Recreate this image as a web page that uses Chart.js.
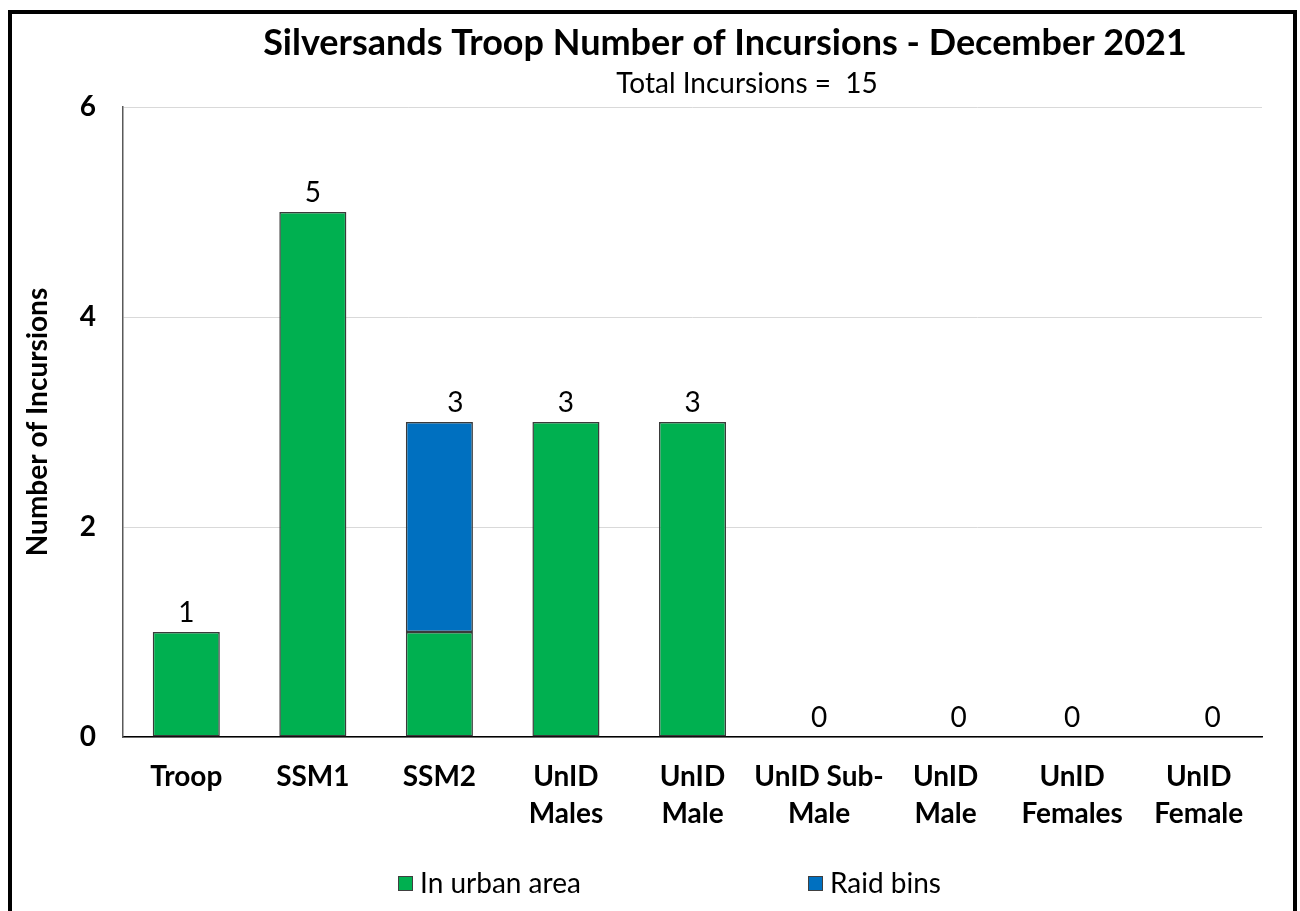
<!DOCTYPE html>
<html>
<head>
<meta charset="utf-8">
<script src="https://cdn.jsdelivr.net/npm/chart.js@4.4.1/dist/chart.umd.min.js"></script>
<style>
  html, body { margin: 0; padding: 0; background: #fff; overflow: hidden; }
  #wrap { position: relative; width: 1300px; height: 911px; }
  #frame { position: absolute; left: 8px; top: 10px; width: 1281px; height: 1000px; border: 4px solid #000; pointer-events: none; }
  canvas { position: absolute; left: 0; top: 0; }
</style>
</head>
<body>
<div id="wrap">
  <canvas id="chart" width="1300" height="911"></canvas>
  <div id="frame"></div>
</div>
<script>
// chart data
const categories = [["Troop"], ["SSM1"], ["SSM2"], ["UnID", "Males"], ["UnID", "Male"], ["UnID Sub-", "Male"], ["UnID", "Male"], ["UnID", "Females"], ["UnID", "Female"]];
const urbanArea = [1, 5, 1, 3, 3, 0, 0, 0, 0];
const raidBins = [0, 0, 2, 0, 0, 0, 0, 0, 0];
const yTicks = [0, 2, 4, 6];
const titleText = "Silversands Troop Number of Incursions - December 2021";
const subtitleText = "Total Incursions =  15";

// small sideways nudges of the value labels, as in the original
const labelShiftX = [0, 0, 16, 0, 0, 0, 13, 0, 14];

const FONT = "Lato, 'Open Sans', sans-serif";

// title + subtitle (not centred on the canvas in the original)
const titlePlugin = {
    id: 'titles',
    afterDraw(chart) {
        const ctx = chart.ctx;
        ctx.save();
        ctx.fillStyle = '#000';
        ctx.textAlign = 'center';
        ctx.textBaseline = 'middle';
        ctx.font = "bold 36px " + FONT;
        ctx.fillText(titleText, 725, 43);
        ctx.font = "28px " + FONT;
        ctx.fillText(subtitleText, 747, 84);
        ctx.restore();
    }
};

// totals above each stack
const totalsPlugin = {
    id: 'totals',
    afterDatasetsDraw(chart) {
        const ctx = chart.ctx;
        const yScale = chart.scales.y;
        ctx.save();
        ctx.fillStyle = '#000';
        ctx.font = "28px " + FONT;
        ctx.textAlign = 'center';
        ctx.textBaseline = 'bottom';
        categories.forEach((c, i) => {
            const total = urbanArea[i] + raidBins[i];
            const bar = chart.getDatasetMeta(0).data[i];
            const y = yScale.getPixelForValue(total);
            ctx.fillText(String(total), bar.x + labelShiftX[i], y - 5);
        });
        ctx.restore();
    }
};

// legend drawn by hand so the wide gap between items can be kept
const legendPlugin = {
    id: 'customLegend',
    afterDraw(chart) {
        const ctx = chart.ctx;
        const xs = [398, 808];
        const yMid = 884;
        ctx.save();
        ctx.font = "28px " + FONT;
        ctx.textBaseline = 'middle';
        chart.data.datasets.forEach((ds, i) => {
            ctx.fillStyle = ds.backgroundColor;
            ctx.fillRect(xs[i], yMid - 8, 15, 15);
            ctx.strokeStyle = '#404040';
            ctx.lineWidth = 1;
            ctx.strokeRect(xs[i] + 0.5, yMid - 7.5, 14, 14);
            ctx.fillStyle = '#000';
            ctx.fillText(ds.label, xs[i] + 22, yMid);
        });
        ctx.restore();
    }
};

const ctx = document.getElementById('chart').getContext('2d');
new Chart(ctx, {
    type: 'bar',
    data: {
        labels: categories,
        datasets: [
            {
                label: 'In urban area',
                data: urbanArea,
                backgroundColor: '#00B050',
                borderColor: '#3a3a3a',
                borderWidth: 1.5,
                borderSkipped: false,
                barPercentage: 0.53,
                categoryPercentage: 1
            },
            {
                label: 'Raid bins',
                data: raidBins,
                backgroundColor: '#0070C0',
                borderColor: '#3a3a3a',
                borderWidth: 1.5,
                borderSkipped: false,
                barPercentage: 0.53,
                categoryPercentage: 1
            }
        ]
    },
    options: {
        responsive: false,
        animation: false,
        layout: { padding: { top: 107, right: 38, bottom: 74, left: 0 } },
        plugins: {
            legend: { display: false },
            title: { display: false },
            tooltip: { enabled: false }
        },
        scales: {
            x: {
                stacked: true,
                grid: { display: false, drawTicks: false },
                border: { color: '#000', width: 1.5 },
                ticks: {
                    color: '#000',
                    padding: 22,
                    maxRotation: 0,
                    autoSkip: false,
                    font: { family: FONT, size: 28, weight: 'bold', lineHeight: 1.3 }
                },
                afterFit: (s) => { s.height = 100; }
            },
            y: {
                stacked: true,
                min: 0,
                max: 6,
                afterBuildTicks: (s) => { s.ticks = yTicks.map(v => ({ value: v })); },
                grid: { color: '#d9d9d9', lineWidth: 1, drawTicks: false },
                border: { color: '#595959', width: 1.5 },
                ticks: {
                    color: '#000',
                    padding: 27,
                    font: { family: FONT, size: 28, weight: 'bold' }
                },
                title: {
                    display: true,
                    text: 'Number of Incursions',
                    color: '#000',
                    padding: { top: 21, bottom: 0 },
                    font: { family: FONT, size: 28, weight: 'bold' }
                },
                afterFit: (s) => { s.width = 123; }
            }
        }
    },
    plugins: [titlePlugin, totalsPlugin, legendPlugin]
});
</script>
</body>
</html>
